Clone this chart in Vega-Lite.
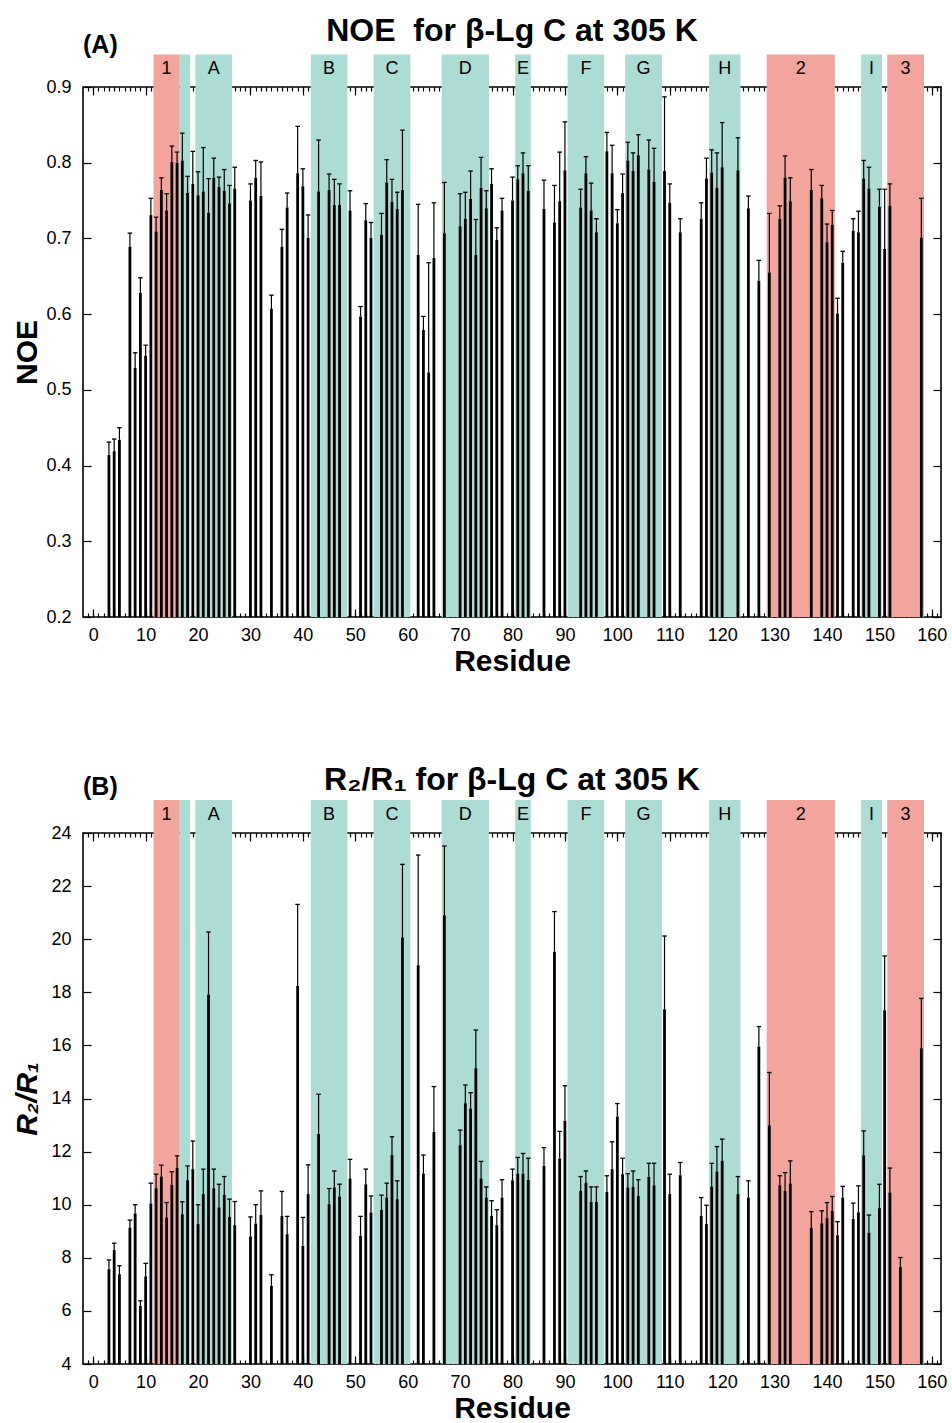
{
  "$schema": "https://vega.github.io/schema/vega-lite/v6.json",
  "background": "white",
  "padding": {"top": 14, "left": 11, "right": 6, "bottom": 5},
  "spacing": 85,
  "config": {
    "font": "Liberation Sans",
    "view": {"stroke": "black", "strokeWidth": 1.6},
    "axis": {"grid": false, "domain": false, "labelFlush": false, "labelOverlap": false, "tickColor": "black", "tickWidth": 1.2, "labelColor": "black", "titleColor": "black", "labelFont": "Liberation Sans", "titleFont": "Liberation Sans"},
    "text": {"font": "Liberation Sans", "color": "black"},
    "title": {"font": "Liberation Sans", "fontSize": 32, "fontWeight": "bold", "color": "black"}
  },
  "datasets": {
    "bands": [
      {"label": "1", "start": 11.5, "end": 16.5, "kind": "helix"},
      {"label": "", "start": 16.5, "end": 18.5, "kind": "strand"},
      {"label": "A", "start": 19.5, "end": 26.5, "kind": "strand"},
      {"label": "B", "start": 41.5, "end": 48.5, "kind": "strand"},
      {"label": "C", "start": 53.5, "end": 60.5, "kind": "strand"},
      {"label": "D", "start": 66.5, "end": 75.5, "kind": "strand"},
      {"label": "E", "start": 80.5, "end": 83.5, "kind": "strand"},
      {"label": "F", "start": 90.5, "end": 97.5, "kind": "strand"},
      {"label": "G", "start": 101.5, "end": 108.5, "kind": "strand"},
      {"label": "H", "start": 117.5, "end": 123.5, "kind": "strand"},
      {"label": "2", "start": 128.5, "end": 141.5, "kind": "helix"},
      {"label": "I", "start": 146.5, "end": 150.5, "kind": "strand"},
      {"label": "3", "start": 151.5, "end": 158.5, "kind": "helix"}
    ],
    "noe": [
      {"res": 3, "noe": 0.414, "noe_hi": 0.431}, {"res": 4, "noe": 0.419, "noe_hi": 0.435}, {"res": 5, "noe": 0.434, "noe_hi": 0.450},
      {"res": 7, "noe": 0.689, "noe_hi": 0.707}, {"res": 8, "noe": 0.529, "noe_hi": 0.549}, {"res": 9, "noe": 0.628, "noe_hi": 0.648},
      {"res": 10, "noe": 0.545, "noe_hi": 0.559}, {"res": 11, "noe": 0.731, "noe_hi": 0.753}, {"res": 12, "noe": 0.709, "noe_hi": 0.728},
      {"res": 13, "noe": 0.764, "noe_hi": 0.780}, {"res": 14, "noe": 0.737, "noe_hi": 0.759}, {"res": 15, "noe": 0.801, "noe_hi": 0.822},
      {"res": 16, "noe": 0.800, "noe_hi": 0.814}, {"res": 17, "noe": 0.803, "noe_hi": 0.839}, {"res": 18, "noe": 0.760, "noe_hi": 0.782},
      {"res": 19, "noe": 0.772, "noe_hi": 0.815}, {"res": 20, "noe": 0.757, "noe_hi": 0.788}, {"res": 21, "noe": 0.762, "noe_hi": 0.820},
      {"res": 22, "noe": 0.734, "noe_hi": 0.779}, {"res": 23, "noe": 0.780, "noe_hi": 0.806}, {"res": 24, "noe": 0.768, "noe_hi": 0.781},
      {"res": 25, "noe": 0.763, "noe_hi": 0.791}, {"res": 26, "noe": 0.746, "noe_hi": 0.770}, {"res": 27, "noe": 0.766, "noe_hi": 0.794},
      {"res": 30, "noe": 0.750, "noe_hi": 0.772}, {"res": 31, "noe": 0.780, "noe_hi": 0.803}, {"res": 32, "noe": 0.756, "noe_hi": 0.801},
      {"res": 34, "noe": 0.607, "noe_hi": 0.625}, {"res": 36, "noe": 0.689, "noe_hi": 0.712}, {"res": 37, "noe": 0.741, "noe_hi": 0.760},
      {"res": 39, "noe": 0.786, "noe_hi": 0.848}, {"res": 40, "noe": 0.769, "noe_hi": 0.792}, {"res": 41, "noe": 0.701, "noe_hi": 0.731},
      {"res": 43, "noe": 0.762, "noe_hi": 0.830}, {"res": 45, "noe": 0.764, "noe_hi": 0.785}, {"res": 46, "noe": 0.744, "noe_hi": 0.778},
      {"res": 47, "noe": 0.744, "noe_hi": 0.772}, {"res": 49, "noe": 0.737, "noe_hi": 0.763}, {"res": 51, "noe": 0.597, "noe_hi": 0.610},
      {"res": 52, "noe": 0.724, "noe_hi": 0.746}, {"res": 53, "noe": 0.701, "noe_hi": 0.721}, {"res": 55, "noe": 0.705, "noe_hi": 0.733},
      {"res": 56, "noe": 0.774, "noe_hi": 0.804}, {"res": 57, "noe": 0.748, "noe_hi": 0.778}, {"res": 58, "noe": 0.739, "noe_hi": 0.761},
      {"res": 59, "noe": 0.764, "noe_hi": 0.843}, {"res": 62, "noe": 0.678, "noe_hi": 0.745}, {"res": 63, "noe": 0.579, "noe_hi": 0.597},
      {"res": 64, "noe": 0.523, "noe_hi": 0.668}, {"res": 65, "noe": 0.674, "noe_hi": 0.747}, {"res": 67, "noe": 0.707, "noe_hi": 0.774},
      {"res": 70, "noe": 0.716, "noe_hi": 0.759}, {"res": 71, "noe": 0.726, "noe_hi": 0.761}, {"res": 72, "noe": 0.752, "noe_hi": 0.789},
      {"res": 73, "noe": 0.678, "noe_hi": 0.725}, {"res": 74, "noe": 0.767, "noe_hi": 0.807}, {"res": 75, "noe": 0.740, "noe_hi": 0.763},
      {"res": 76, "noe": 0.772, "noe_hi": 0.792}, {"res": 77, "noe": 0.698, "noe_hi": 0.714}, {"res": 78, "noe": 0.737, "noe_hi": 0.753},
      {"res": 80, "noe": 0.750, "noe_hi": 0.781}, {"res": 81, "noe": 0.778, "noe_hi": 0.796}, {"res": 82, "noe": 0.786, "noe_hi": 0.813},
      {"res": 83, "noe": 0.763, "noe_hi": 0.796}, {"res": 86, "noe": 0.739, "noe_hi": 0.777}, {"res": 88, "noe": 0.721, "noe_hi": 0.770},
      {"res": 89, "noe": 0.749, "noe_hi": 0.814}, {"res": 90, "noe": 0.790, "noe_hi": 0.854}, {"res": 93, "noe": 0.741, "noe_hi": 0.765},
      {"res": 94, "noe": 0.786, "noe_hi": 0.808}, {"res": 95, "noe": 0.737, "noe_hi": 0.773}, {"res": 96, "noe": 0.708, "noe_hi": 0.726},
      {"res": 98, "noe": 0.815, "noe_hi": 0.840}, {"res": 99, "noe": 0.786, "noe_hi": 0.823}, {"res": 100, "noe": 0.720, "noe_hi": 0.738},
      {"res": 101, "noe": 0.760, "noe_hi": 0.785}, {"res": 102, "noe": 0.803, "noe_hi": 0.827}, {"res": 103, "noe": 0.789, "noe_hi": 0.813},
      {"res": 104, "noe": 0.810, "noe_hi": 0.837}, {"res": 106, "noe": 0.791, "noe_hi": 0.830}, {"res": 107, "noe": 0.775, "noe_hi": 0.819},
      {"res": 109, "noe": 0.789, "noe_hi": 0.887}, {"res": 110, "noe": 0.747, "noe_hi": 0.772}, {"res": 112, "noe": 0.708, "noe_hi": 0.726},
      {"res": 116, "noe": 0.726, "noe_hi": 0.747}, {"res": 117, "noe": 0.779, "noe_hi": 0.806}, {"res": 118, "noe": 0.787, "noe_hi": 0.817},
      {"res": 119, "noe": 0.767, "noe_hi": 0.813}, {"res": 120, "noe": 0.794, "noe_hi": 0.853}, {"res": 123, "noe": 0.790, "noe_hi": 0.833},
      {"res": 125, "noe": 0.740, "noe_hi": 0.756}, {"res": 127, "noe": 0.644, "noe_hi": 0.671}, {"res": 129, "noe": 0.655, "noe_hi": 0.733},
      {"res": 131, "noe": 0.726, "noe_hi": 0.743}, {"res": 132, "noe": 0.780, "noe_hi": 0.809}, {"res": 133, "noe": 0.749, "noe_hi": 0.780},
      {"res": 137, "noe": 0.764, "noe_hi": 0.791}, {"res": 139, "noe": 0.753, "noe_hi": 0.770}, {"res": 140, "noe": 0.695, "noe_hi": 0.719},
      {"res": 141, "noe": 0.718, "noe_hi": 0.737}, {"res": 142, "noe": 0.601, "noe_hi": 0.621}, {"res": 143, "noe": 0.668, "noe_hi": 0.683},
      {"res": 145, "noe": 0.710, "noe_hi": 0.726}, {"res": 146, "noe": 0.708, "noe_hi": 0.736}, {"res": 147, "noe": 0.779, "noe_hi": 0.803},
      {"res": 148, "noe": 0.766, "noe_hi": 0.794}, {"res": 150, "noe": 0.742, "noe_hi": 0.765}, {"res": 151, "noe": 0.686, "noe_hi": 0.765},
      {"res": 152, "noe": 0.743, "noe_hi": 0.772}, {"res": 158, "noe": 0.701, "noe_hi": 0.753}
    ],
    "r2r1": [
      {"res": 3, "ratio": 7.57, "ratio_hi": 7.92}, {"res": 4, "ratio": 8.29, "ratio_hi": 8.55}, {"res": 5, "ratio": 7.38, "ratio_hi": 7.70},
      {"res": 7, "ratio": 9.14, "ratio_hi": 9.42}, {"res": 8, "ratio": 9.67, "ratio_hi": 10.0}, {"res": 9, "ratio": 6.19, "ratio_hi": 6.38},
      {"res": 10, "ratio": 7.30, "ratio_hi": 7.79}, {"res": 11, "ratio": 10.05, "ratio_hi": 10.81}, {"res": 12, "ratio": 10.62, "ratio_hi": 11.15},
      {"res": 13, "ratio": 11.06, "ratio_hi": 11.49}, {"res": 14, "ratio": 9.52, "ratio_hi": 10.08}, {"res": 15, "ratio": 10.75, "ratio_hi": 11.24},
      {"res": 16, "ratio": 11.38, "ratio_hi": 11.84}, {"res": 17, "ratio": 9.64, "ratio_hi": 10.11}, {"res": 18, "ratio": 10.92, "ratio_hi": 11.46},
      {"res": 19, "ratio": 11.34, "ratio_hi": 12.40}, {"res": 20, "ratio": 9.27, "ratio_hi": 10.0}, {"res": 21, "ratio": 10.40, "ratio_hi": 11.34},
      {"res": 22, "ratio": 17.92, "ratio_hi": 20.27}, {"res": 23, "ratio": 10.62, "ratio_hi": 11.34}, {"res": 24, "ratio": 9.90, "ratio_hi": 10.77},
      {"res": 25, "ratio": 10.37, "ratio_hi": 11.06}, {"res": 26, "ratio": 9.54, "ratio_hi": 10.21}, {"res": 27, "ratio": 9.23, "ratio_hi": 10.12},
      {"res": 30, "ratio": 8.80, "ratio_hi": 9.54}, {"res": 31, "ratio": 9.29, "ratio_hi": 10.0}, {"res": 32, "ratio": 9.62, "ratio_hi": 10.52},
      {"res": 34, "ratio": 6.94, "ratio_hi": 7.36}, {"res": 36, "ratio": 9.58, "ratio_hi": 10.50}, {"res": 37, "ratio": 8.89, "ratio_hi": 9.56},
      {"res": 39, "ratio": 18.24, "ratio_hi": 21.31}, {"res": 40, "ratio": 8.45, "ratio_hi": 9.52}, {"res": 41, "ratio": 10.40, "ratio_hi": 11.50},
      {"res": 43, "ratio": 12.66, "ratio_hi": 14.16}, {"res": 45, "ratio": 10.02, "ratio_hi": 10.61}, {"res": 46, "ratio": 10.65, "ratio_hi": 11.27},
      {"res": 47, "ratio": 10.31, "ratio_hi": 10.77}, {"res": 49, "ratio": 10.99, "ratio_hi": 11.71}, {"res": 51, "ratio": 8.83, "ratio_hi": 9.56},
      {"res": 52, "ratio": 10.77, "ratio_hi": 11.34}, {"res": 53, "ratio": 9.71, "ratio_hi": 10.33}, {"res": 55, "ratio": 9.81, "ratio_hi": 10.36},
      {"res": 56, "ratio": 10.27, "ratio_hi": 10.81}, {"res": 57, "ratio": 11.87, "ratio_hi": 12.56}, {"res": 58, "ratio": 10.21, "ratio_hi": 10.90},
      {"res": 59, "ratio": 20.06, "ratio_hi": 22.82}, {"res": 62, "ratio": 19.02, "ratio_hi": 23.17}, {"res": 63, "ratio": 11.17, "ratio_hi": 11.87},
      {"res": 65, "ratio": 12.74, "ratio_hi": 14.45}, {"res": 67, "ratio": 20.90, "ratio_hi": 23.51}, {"res": 70, "ratio": 12.24, "ratio_hi": 12.81},
      {"res": 71, "ratio": 13.82, "ratio_hi": 14.51}, {"res": 72, "ratio": 13.62, "ratio_hi": 14.22}, {"res": 73, "ratio": 15.14, "ratio_hi": 16.58},
      {"res": 74, "ratio": 10.99, "ratio_hi": 11.63}, {"res": 75, "ratio": 10.27, "ratio_hi": 10.67}, {"res": 76, "ratio": 9.58, "ratio_hi": 10.15},
      {"res": 77, "ratio": 9.23, "ratio_hi": 9.81}, {"res": 78, "ratio": 10.27, "ratio_hi": 10.94}, {"res": 80, "ratio": 10.92, "ratio_hi": 11.34},
      {"res": 81, "ratio": 11.17, "ratio_hi": 11.78}, {"res": 82, "ratio": 11.17, "ratio_hi": 11.93}, {"res": 83, "ratio": 10.94, "ratio_hi": 11.75},
      {"res": 86, "ratio": 11.46, "ratio_hi": 12.15}, {"res": 88, "ratio": 19.53, "ratio_hi": 21.04}, {"res": 89, "ratio": 11.74, "ratio_hi": 12.76},
      {"res": 90, "ratio": 13.16, "ratio_hi": 14.48}, {"res": 93, "ratio": 10.52, "ratio_hi": 11.06}, {"res": 94, "ratio": 10.83, "ratio_hi": 11.27},
      {"res": 95, "ratio": 10.11, "ratio_hi": 10.67}, {"res": 96, "ratio": 10.11, "ratio_hi": 10.67}, {"res": 98, "ratio": 10.48, "ratio_hi": 11.09},
      {"res": 99, "ratio": 11.34, "ratio_hi": 12.37}, {"res": 100, "ratio": 13.32, "ratio_hi": 13.81}, {"res": 101, "ratio": 11.15, "ratio_hi": 11.75},
      {"res": 102, "ratio": 10.65, "ratio_hi": 11.17}, {"res": 103, "ratio": 10.67, "ratio_hi": 11.27}, {"res": 104, "ratio": 10.33, "ratio_hi": 10.94},
      {"res": 106, "ratio": 11.05, "ratio_hi": 11.56}, {"res": 107, "ratio": 10.73, "ratio_hi": 11.56}, {"res": 109, "ratio": 17.36, "ratio_hi": 20.12},
      {"res": 110, "ratio": 10.40, "ratio_hi": 11.15}, {"res": 112, "ratio": 11.11, "ratio_hi": 11.59}, {"res": 116, "ratio": 9.58, "ratio_hi": 10.27},
      {"res": 117, "ratio": 9.27, "ratio_hi": 9.98}, {"res": 118, "ratio": 10.68, "ratio_hi": 11.56}, {"res": 119, "ratio": 11.25, "ratio_hi": 12.19},
      {"res": 120, "ratio": 11.65, "ratio_hi": 12.47}, {"res": 123, "ratio": 10.40, "ratio_hi": 11.06}, {"res": 125, "ratio": 10.27, "ratio_hi": 10.90},
      {"res": 127, "ratio": 15.96, "ratio_hi": 16.71}, {"res": 129, "ratio": 12.99, "ratio_hi": 14.98}, {"res": 131, "ratio": 10.73, "ratio_hi": 11.09},
      {"res": 132, "ratio": 10.52, "ratio_hi": 11.21}, {"res": 133, "ratio": 10.80, "ratio_hi": 11.65}, {"res": 137, "ratio": 9.12, "ratio_hi": 9.74},
      {"res": 139, "ratio": 9.30, "ratio_hi": 9.77}, {"res": 140, "ratio": 9.49, "ratio_hi": 10.08}, {"res": 141, "ratio": 9.77, "ratio_hi": 10.31},
      {"res": 142, "ratio": 8.85, "ratio_hi": 9.36}, {"res": 143, "ratio": 10.27, "ratio_hi": 10.69}, {"res": 145, "ratio": 9.46, "ratio_hi": 10.06},
      {"res": 146, "ratio": 9.71, "ratio_hi": 10.71}, {"res": 147, "ratio": 11.86, "ratio_hi": 12.78}, {"res": 148, "ratio": 8.95, "ratio_hi": 9.61},
      {"res": 150, "ratio": 9.87, "ratio_hi": 10.77}, {"res": 151, "ratio": 17.32, "ratio_hi": 19.37}, {"res": 152, "ratio": 10.46, "ratio_hi": 11.38},
      {"res": 154, "ratio": 7.66, "ratio_hi": 8.01}, {"res": 158, "ratio": 15.89, "ratio_hi": 17.77}
    ]
  },
  "vconcat": [
    {
      "width": 858,
      "height": 530,
      "title": {"text": "NOE\u00a0\u00a0for β-Lg C at 305 K", "anchor": "middle", "frame": "group", "offset": -40, "baseline": "alphabetic"},
      "resolve": {"axis": {"x": "independent", "y": "independent"}},
      "layer": [
        {
          "data": {"name": "bands"},
          "mark": {"type": "rect", "clip": false},
          "encoding": {
            "x": {"field": "start", "type": "quantitative", "scale": {"domain": [-1.95, 161.75], "nice": false, "zero": false},
                  "axis": {"orient": "top", "values": [0,10,20,30,40,50,60,70,80,90,100,110,120,130,140,150,160], "tickSize": -8, "labels": false, "title": null}},
            "x2": {"field": "end"},
            "y": {"datum": 0.943, "type": "quantitative", "scale": {"domain": [0.2, 0.9], "nice": false, "zero": false}, "axis": null},
            "y2": {"datum": 0.2},
            "color": {"field": "kind", "type": "nominal", "scale": {"domain": ["helix", "strand"], "range": ["#F3A49C", "#ACDCD3"]}, "legend": null}
          }
        },
        {
          "data": {"name": "bands"},
          "transform": [{"calculate": "(datum.start + datum.end) / 2", "as": "mid"}],
          "mark": {"type": "text", "fontSize": 18, "baseline": "middle", "align": "center"},
          "encoding": {
            "x": {"field": "mid", "type": "quantitative", "axis": null},
            "y": {"datum": 0.924, "type": "quantitative", "axis": null},
            "text": {"field": "label"}
          }
        },
        {
          "data": {"values": [{"tag": "(A)"}]},
          "mark": {"type": "text", "fontSize": 25, "fontWeight": "bold", "align": "left", "baseline": "middle"},
          "encoding": {
            "x": {"datum": -1.95, "type": "quantitative", "axis": null},
            "y": {"datum": 0.955, "type": "quantitative", "axis": null},
            "text": {"field": "tag"}
          }
        },
        {
          "data": {"name": "noe"},
          "mark": {"type": "rule", "strokeWidth": 2.8, "color": "black"},
          "encoding": {
            "x": {"field": "res", "type": "quantitative",
                  "axis": {"orient": "bottom", "values": [0,10,20,30,40,50,60,70,80,90,100,110,120,130,140,150,160], "tickSize": -8, "labelFontSize": 18, "labelPadding": 17, "title": "Residue", "titleFontSize": 30, "titleFontWeight": "bold", "titlePadding": 2}},
            "y": {"field": "noe", "type": "quantitative",
                  "axis": {"orient": "left", "values": [0.2,0.3,0.4,0.5,0.6,0.7,0.8,0.9], "format": ".1f", "tickSize": -8, "labelFontSize": 18, "labelPadding": 20, "title": "NOE", "titleFontSize": 30, "titleFontWeight": "bold", "titleX": -47, "titleBaseline": "alphabetic"}},
            "y2": {"datum": 0.2}
          }
        },
        {
          "data": {"name": "noe"},
          "mark": {"type": "rule", "strokeWidth": 1.2, "color": "black"},
          "encoding": {
            "x": {"field": "res", "type": "quantitative",
                  "axis": {"orient": "bottom", "values": [-1,0,1,2,3,4,5,6,7,8,9,10,11,12,13,14,15,16,17,18,19,20,21,22,23,24,25,26,27,28,29,30,31,32,33,34,35,36,37,38,39,40,41,42,43,44,45,46,47,48,49,50,51,52,53,54,55,56,57,58,59,60,61,62,63,64,65,66,67,68,69,70,71,72,73,74,75,76,77,78,79,80,81,82,83,84,85,86,87,88,89,90,91,92,93,94,95,96,97,98,99,100,101,102,103,104,105,106,107,108,109,110,111,112,113,114,115,116,117,118,119,120,121,122,123,124,125,126,127,128,129,130,131,132,133,134,135,136,137,138,139,140,141,142,143,144,145,146,147,148,149,150,151,152,153,154,155,156,157,158,159,160,161], "tickSize": -4, "labels": false, "title": null}},
            "y": {"field": "noe", "type": "quantitative",
                  "axis": {"orient": "right", "values": [0.2,0.3,0.4,0.5,0.6,0.7,0.8,0.9], "tickSize": -8, "labels": false, "title": null}},
            "y2": {"field": "noe_hi"}
          }
        },
        {
          "data": {"name": "noe"},
          "mark": {"type": "tick", "orient": "horizontal", "size": 4.5, "thickness": 1.3, "color": "black", "opacity": 1},
          "encoding": {
            "x": {"field": "res", "type": "quantitative",
                  "axis": {"orient": "top", "values": [-1,0,1,2,3,4,5,6,7,8,9,10,11,12,13,14,15,16,17,18,19,20,21,22,23,24,25,26,27,28,29,30,31,32,33,34,35,36,37,38,39,40,41,42,43,44,45,46,47,48,49,50,51,52,53,54,55,56,57,58,59,60,61,62,63,64,65,66,67,68,69,70,71,72,73,74,75,76,77,78,79,80,81,82,83,84,85,86,87,88,89,90,91,92,93,94,95,96,97,98,99,100,101,102,103,104,105,106,107,108,109,110,111,112,113,114,115,116,117,118,119,120,121,122,123,124,125,126,127,128,129,130,131,132,133,134,135,136,137,138,139,140,141,142,143,144,145,146,147,148,149,150,151,152,153,154,155,156,157,158,159,160,161], "tickSize": -4, "labels": false, "title": null}},
            "y": {"field": "noe_hi", "type": "quantitative", "axis": null}
          }
        }
      ]
    },
    {
      "width": 858,
      "height": 531,
      "title": {"text": "R₂/R₁ for β-Lg C at 305 K", "anchor": "middle", "frame": "group", "offset": -47, "baseline": "alphabetic"},
      "resolve": {"axis": {"x": "independent", "y": "independent"}},
      "layer": [
        {
          "data": {"name": "bands"},
          "mark": {"type": "rect", "clip": false},
          "encoding": {
            "x": {"field": "start", "type": "quantitative", "scale": {"domain": [-1.95, 161.75], "nice": false, "zero": false},
                  "axis": {"orient": "top", "values": [0,10,20,30,40,50,60,70,80,90,100,110,120,130,140,150,160], "tickSize": -8, "labels": false, "title": null}},
            "x2": {"field": "end"},
            "y": {"datum": 25.24, "type": "quantitative", "scale": {"domain": [4, 24], "nice": false, "zero": false}, "axis": null},
            "y2": {"datum": 4},
            "color": {"field": "kind", "type": "nominal", "scale": {"domain": ["helix", "strand"], "range": ["#F3A49C", "#ACDCD3"]}, "legend": null}
          }
        },
        {
          "data": {"name": "bands"},
          "transform": [{"calculate": "(datum.start + datum.end) / 2", "as": "mid"}],
          "mark": {"type": "text", "fontSize": 18, "baseline": "middle", "align": "center"},
          "encoding": {
            "x": {"field": "mid", "type": "quantitative", "axis": null},
            "y": {"datum": 24.66, "type": "quantitative", "axis": null},
            "text": {"field": "label"}
          }
        },
        {
          "data": {"values": [{"tag": "(B)"}]},
          "mark": {"type": "text", "fontSize": 25, "fontWeight": "bold", "align": "left", "baseline": "middle"},
          "encoding": {
            "x": {"datum": -1.95, "type": "quantitative", "axis": null},
            "y": {"datum": 25.75, "type": "quantitative", "axis": null},
            "text": {"field": "tag"}
          }
        },
        {
          "data": {"name": "r2r1"},
          "mark": {"type": "rule", "strokeWidth": 2.8, "color": "black"},
          "encoding": {
            "x": {"field": "res", "type": "quantitative",
                  "axis": {"orient": "bottom", "values": [0,10,20,30,40,50,60,70,80,90,100,110,120,130,140,150,160], "tickSize": -8, "labelFontSize": 18, "labelPadding": 17, "title": "Residue", "titleFontSize": 30, "titleFontWeight": "bold", "titlePadding": 2}},
            "y": {"field": "ratio", "type": "quantitative",
                  "axis": {"orient": "left", "values": [4,6,8,10,12,14,16,18,20,22,24], "format": "d", "tickSize": -8, "labelFontSize": 18, "labelPadding": 20, "title": "R₂/R₁", "titleFontSize": 30, "titleFontWeight": "bold", "titleFontStyle": "italic", "titleX": -47, "titleBaseline": "alphabetic"}},
            "y2": {"datum": 4}
          }
        },
        {
          "data": {"name": "r2r1"},
          "mark": {"type": "rule", "strokeWidth": 1.2, "color": "black"},
          "encoding": {
            "x": {"field": "res", "type": "quantitative",
                  "axis": {"orient": "bottom", "values": [-1,0,1,2,3,4,5,6,7,8,9,10,11,12,13,14,15,16,17,18,19,20,21,22,23,24,25,26,27,28,29,30,31,32,33,34,35,36,37,38,39,40,41,42,43,44,45,46,47,48,49,50,51,52,53,54,55,56,57,58,59,60,61,62,63,64,65,66,67,68,69,70,71,72,73,74,75,76,77,78,79,80,81,82,83,84,85,86,87,88,89,90,91,92,93,94,95,96,97,98,99,100,101,102,103,104,105,106,107,108,109,110,111,112,113,114,115,116,117,118,119,120,121,122,123,124,125,126,127,128,129,130,131,132,133,134,135,136,137,138,139,140,141,142,143,144,145,146,147,148,149,150,151,152,153,154,155,156,157,158,159,160,161], "tickSize": -4, "labels": false, "title": null}},
            "y": {"field": "ratio", "type": "quantitative",
                  "axis": {"orient": "right", "values": [4,6,8,10,12,14,16,18,20,22,24], "tickSize": -8, "labels": false, "title": null}},
            "y2": {"field": "ratio_hi"}
          }
        },
        {
          "data": {"name": "r2r1"},
          "mark": {"type": "tick", "orient": "horizontal", "size": 4.5, "thickness": 1.3, "color": "black", "opacity": 1},
          "encoding": {
            "x": {"field": "res", "type": "quantitative",
                  "axis": {"orient": "top", "values": [-1,0,1,2,3,4,5,6,7,8,9,10,11,12,13,14,15,16,17,18,19,20,21,22,23,24,25,26,27,28,29,30,31,32,33,34,35,36,37,38,39,40,41,42,43,44,45,46,47,48,49,50,51,52,53,54,55,56,57,58,59,60,61,62,63,64,65,66,67,68,69,70,71,72,73,74,75,76,77,78,79,80,81,82,83,84,85,86,87,88,89,90,91,92,93,94,95,96,97,98,99,100,101,102,103,104,105,106,107,108,109,110,111,112,113,114,115,116,117,118,119,120,121,122,123,124,125,126,127,128,129,130,131,132,133,134,135,136,137,138,139,140,141,142,143,144,145,146,147,148,149,150,151,152,153,154,155,156,157,158,159,160,161], "tickSize": -4, "labels": false, "title": null}},
            "y": {"field": "ratio_hi", "type": "quantitative", "axis": null}
          }
        }
      ]
    }
  ]
}
